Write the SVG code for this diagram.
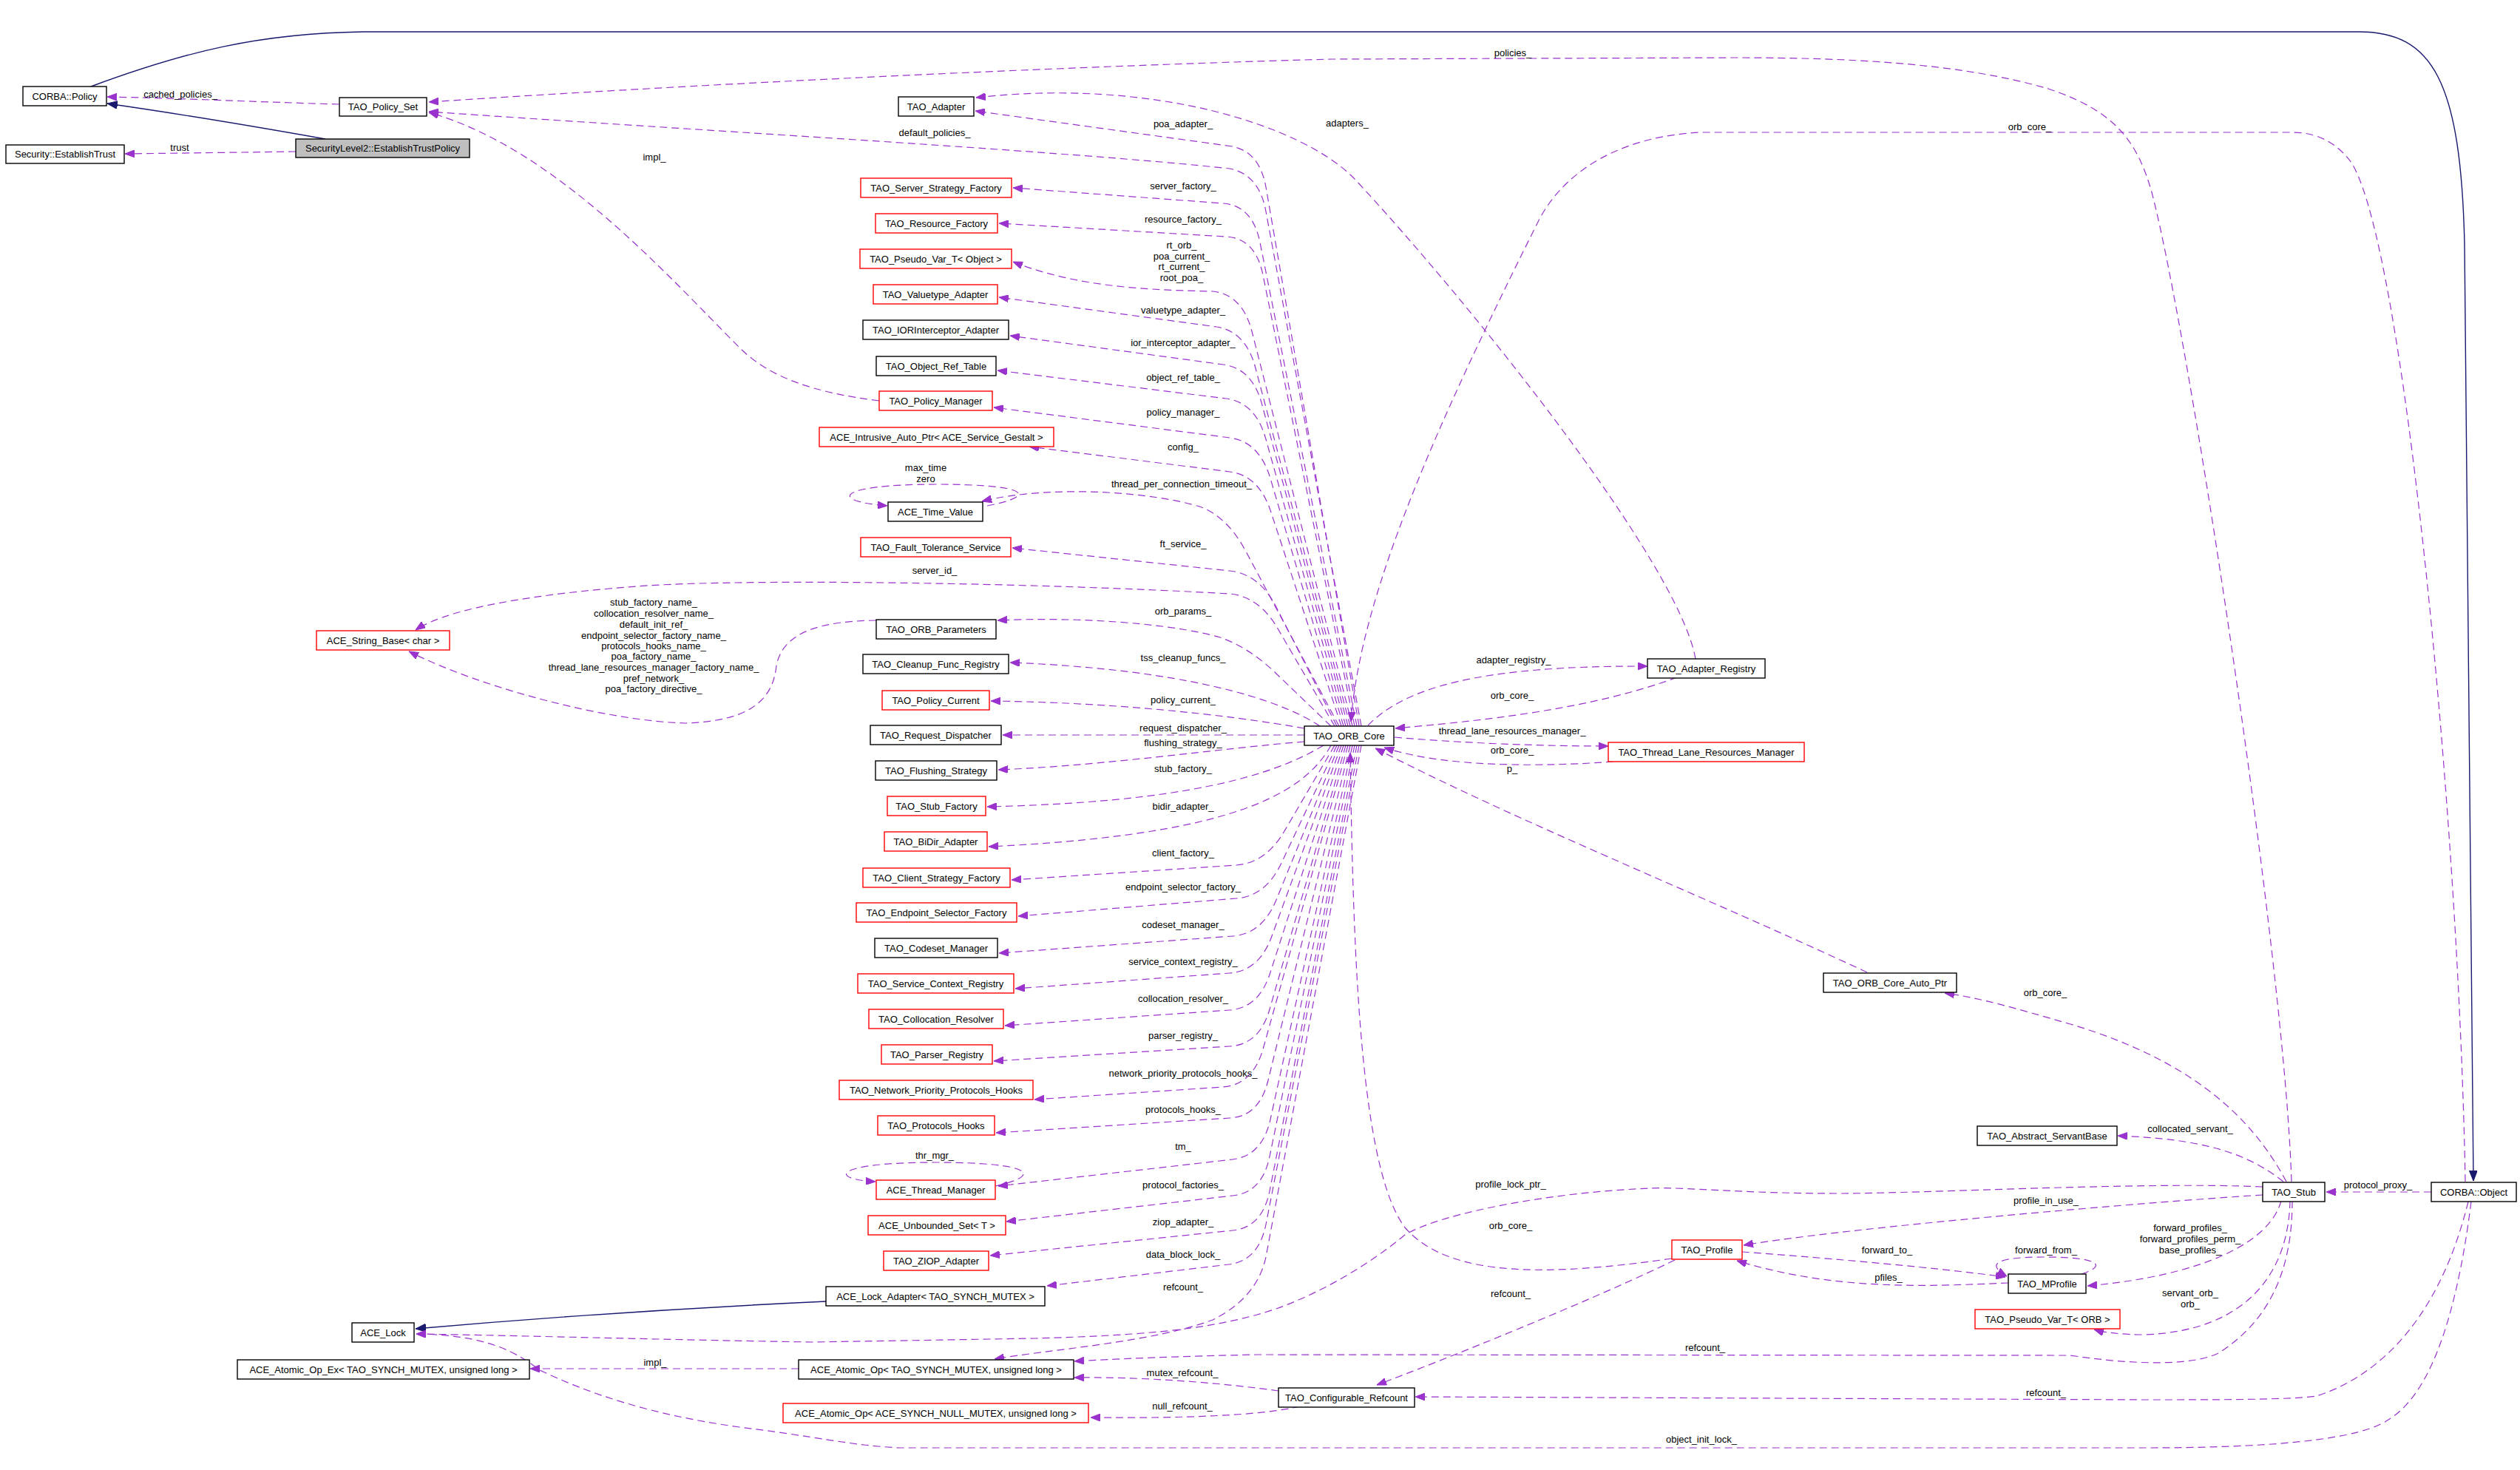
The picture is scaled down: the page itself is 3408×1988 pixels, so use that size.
<svg xmlns="http://www.w3.org/2000/svg" width="3408" height="1988" viewBox="0 0 3408 1988">
<style>
.n rect{fill:#fff;stroke:#000;stroke-width:1.4}
.r rect{stroke:#f00}
.c rect{fill:#bfbfbf}
text{font-family:"Liberation Sans",Arial,sans-serif;font-size:13px;fill:#000;text-anchor:middle}
.e{fill:none;stroke:#9a32cd;stroke-width:1.2;stroke-dasharray:10 6;marker-end:url(#ap)}
.i{fill:none;stroke:#191970;stroke-width:1.4;marker-end:url(#ai)}
</style>
<defs>
<marker id="ap" viewBox="0 0 13 10" refX="13" refY="5" markerWidth="13" markerHeight="10" orient="auto" markerUnits="userSpaceOnUse"><path d="M0,0L13,5L0,10z" fill="#9a32cd" stroke="#9a32cd"/></marker>
<marker id="ai" viewBox="0 0 14 11" refX="14" refY="5.5" markerWidth="14" markerHeight="11" orient="auto" markerUnits="userSpaceOnUse"><path d="M0,0L14,5.5L0,11z" fill="#191970" stroke="#191970"/></marker>
</defs>
<rect width="3408" height="1988" fill="#fff"/>
<g id="edges">
<path class="i" d="M123,117 C250,70 350,45 491,43 L3190,43 C3290,43 3328,110 3333,330 L3345,1597"/>
<path class="i" d="M440,188 C350,172 250,155 145,140"/>
<path class="i" d="M1117,1760 C900,1770 700,1785 562,1797"/>
<path class="e" d="M459,141 C350,138 250,133 145,131"/>
<path class="e" d="M400,205 C330,206 250,207 169,208"/>
<path class="e" d="M1189,542 C1100,531 1040,510 1000,470 C900,370 750,200 580,152"/>
<path class="e" d="M3099,1598 C3090,1300 2960,450 2910,260 C2890,190 2860,150 2770,120 C2650,85 2500,78 2346,78 L1800,80 C1500,88 1000,110 580,138"/>
<path class="e" d="M3334,1598 C3325,1100 3250,330 3180,220 Q3150,179 3100,179 L2300,179 C2180,185 2110,240 2080,300 C1950,560 1840,800 1827,976"/>
<path class="e" d="M2293,891 C2270,760 1980,400 1830,240 C1760,170 1560,105 1320,132"/>
<path class="e" d="M1838,982 L1712,253 Q1703,203 1663,197.5 L1319,150"/>
<path class="e" d="M1841,982 L1712,286 Q1703,236 1663,228 C1450,205 1000,180 580,151"/>
<path class="e" d="M1835,982 L1704,328 Q1694,278 1654,275 L1370,254"/>
<path class="e" d="M1832,982 L1708,372 Q1698,322 1658,320 L1351,302"/>
<path class="e" d="M1829,982 L1693,448 Q1680,398 1640,394 C1560,392 1460,390 1370,354"/>
<path class="e" d="M1826,982 L1698,498 Q1685,448 1645,442 L1351,402"/>
<path class="e" d="M1823,982 L1707,548 Q1694,498 1654,493 L1366,454"/>
<path class="e" d="M1820,982 L1712,594 Q1698,544 1658,539 L1349,501"/>
<path class="e" d="M1817,982 L1718,647 Q1703,597 1663,592 L1344,551"/>
<path class="e" d="M1814,982 L1719,693 Q1703,643 1663,638 L1392,604"/>
<path class="e" d="M1811,982 L1684,744 Q1660,700 1625,686 C1560,665 1420,655 1328,678"/>
<path class="e" d="M1335,684 C1400,672 1400,655 1265,655 C1130,655 1120,678 1200,684"/>
<path class="e" d="M1808,982 L1726,821 Q1703,776 1663,772 L1369,741"/>
<path class="e" d="M1805,982 L1728,850 Q1703,807 1663,803 C1400,788 1000,782 861,793 C740,802 610,820 562,852"/>
<path class="e" d="M1800,982 L1726,911 Q1690,876 1650,862 C1580,842 1450,834 1349,839"/>
<path class="e" d="M1185,839 C1120,840 1060,850 1050,900 C1045,950 1010,975 927,978 C820,975 650,930 553,881"/>
<path class="e" d="M1785,982 C1730,945 1600,905 1366,896"/>
<path class="e" d="M1764,985 C1650,965 1500,950 1340,948"/>
<path class="e" d="M1764,994 L1356,994"/>
<path class="e" d="M1764,1003 C1650,1012 1500,1035 1350,1041"/>
<path class="e" d="M1790,1008 C1720,1050 1600,1085 1335,1091"/>
<path class="e" d="M1800,1008 C1760,1080 1650,1130 1337,1145"/>
<path class="e" d="M1805,1008 L1737,1124 Q1712,1167 1672,1170 L1368,1190"/>
<path class="e" d="M1808,1008 L1733,1167 Q1712,1212 1672,1215 L1377,1239"/>
<path class="e" d="M1811,1008 L1726,1217 Q1707,1263 1667,1266 L1351,1289"/>
<path class="e" d="M1814,1008 L1720,1266 Q1703,1313 1663,1316 L1373,1337"/>
<path class="e" d="M1817,1008 L1718,1315 Q1703,1363 1663,1366 L1359,1387"/>
<path class="e" d="M1820,1008 L1717,1365 Q1703,1413 1663,1415 L1344,1435"/>
<path class="e" d="M1823,1008 L1708,1419 Q1694,1467 1654,1470 L1399,1487"/>
<path class="e" d="M1826,1008 L1715,1461 Q1703,1510 1663,1512 L1347,1532"/>
<path class="e" d="M1829,1008 L1718,1514 Q1707,1563 1667,1568 L1350,1604"/>
<path class="e" d="M1346,1604 C1410,1590 1400,1572 1265,1572 C1125,1572 1120,1595 1184,1598"/>
<path class="e" d="M1832,1008 L1717,1564 Q1707,1613 1667,1617 L1361,1652"/>
<path class="e" d="M1835,1008 L1717,1611 Q1707,1660 1667,1664 L1339,1698"/>
<path class="e" d="M1838,1008 L1712,1656 Q1702,1705 1662,1710 L1416,1739"/>
<path class="e" d="M1841,1008 L1712,1700 Q1700,1755 1640,1785 C1560,1815 1420,1825 1345,1838"/>
<path class="e" d="M1850,981 C1900,930 2000,900 2228,901"/>
<path class="e" d="M2268,916 C2150,960 2000,975 1887,985"/>
<path class="e" d="M1886,997 C1980,1005 2080,1009 2175,1009"/>
<path class="e" d="M2182,1030 C2100,1036 1960,1040 1872,1011"/>
<path class="e" d="M2525,1315 C2300,1210 2050,1110 1860,1012"/>
<path class="e" d="M3092,1598 C3040,1500 2950,1430 2800,1385 C2720,1362 2680,1350 2630,1343"/>
<path class="e" d="M3088,1598 C3040,1560 2980,1540 2864,1536"/>
<path class="e" d="M3288,1612 L3146,1612"/>
<path class="e" d="M3060,1605 C2900,1598 2600,1614 2487,1614 C2350,1614 2280,1605 2232,1607 C2100,1612 1950,1640 1900,1670 C1840,1720 1760,1762 1700,1778 C1620,1800 1534,1806 1400,1810 L1100,1815 C900,1812 700,1806 563,1804"/>
<path class="e" d="M3060,1616 C2900,1626 2500,1660 2358,1684"/>
<path class="e" d="M2261,1702 C2100,1725 1960,1730 1900,1660 C1840,1580 1830,1300 1826,1018"/>
<path class="e" d="M2265,1704 C2150,1760 1950,1840 1862,1873"/>
<path class="e" d="M2356,1693 C2450,1700 2600,1712 2712,1727"/>
<path class="e" d="M2815,1723 C2850,1712 2840,1700 2765,1700 C2690,1700 2690,1712 2714,1726"/>
<path class="e" d="M2716,1735 C2600,1740 2480,1745 2349,1705"/>
<path class="e" d="M3085,1624 C3070,1680 2980,1725 2823,1739"/>
<path class="e" d="M3097,1624 C3095,1720 3040,1800 2900,1805 C2870,1805 2845,1802 2832,1798"/>
<path class="e" d="M3100,1624 C3100,1700 3080,1780 3000,1830 C2970,1845 2900,1848 2800,1833 L1700,1832 C1600,1834 1500,1838 1453,1841"/>
<path class="e" d="M3338,1625 C3300,1780 3220,1860 3133,1888 C3100,1893 3000,1893 2900,1893 L1914,1889"/>
<path class="e" d="M3342,1625 C3320,1800 3280,1890 3230,1920 C3180,1955 3000,1958 2900,1958 L1217,1958 C1150,1955 1100,1942 1000,1930 C877,1913 793,1883 730,1853 C700,1830 660,1805 563,1804"/>
<path class="e" d="M1729,1881 C1650,1870 1550,1862 1453,1863"/>
<path class="e" d="M1758,1902 C1700,1915 1600,1918 1475,1917"/>
<path class="e" d="M1080,1851 L717,1851"/>
<text x="244" y="132">cached_policies_</text>
<text x="243" y="204">trust</text>
<text x="885" y="217">impl_</text>
<text x="2046" y="76">policies_</text>
<text x="2745" y="176">orb_core_</text>
<text x="1822" y="171">adapters_</text>
<text x="1600" y="172">poa_adapter_</text>
<text x="1264" y="184">default_policies_</text>
<text x="1600" y="256">server_factory_</text>
<text x="1600" y="301">resource_factory_</text>
<text x="1598" y="336">rt_orb_</text>
<text x="1598" y="351">poa_current_</text>
<text x="1598" y="365">rt_current_</text>
<text x="1598" y="380">root_poa_</text>
<text x="1600" y="424">valuetype_adapter_</text>
<text x="1600" y="468">ior_interceptor_adapter_</text>
<text x="1600" y="515">object_ref_table_</text>
<text x="1600" y="562">policy_manager_</text>
<text x="1600" y="609">config_</text>
<text x="1252" y="637">max_time</text>
<text x="1252" y="652">zero</text>
<text x="1598" y="659">thread_per_connection_timeout_</text>
<text x="1600" y="740">ft_service_</text>
<text x="1264" y="776">server_id_</text>
<text x="1600" y="831">orb_params_</text>
<text x="884" y="819">stub_factory_name_</text>
<text x="884" y="834">collocation_resolver_name_</text>
<text x="884" y="849">default_init_ref_</text>
<text x="884" y="864">endpoint_selector_factory_name_</text>
<text x="884" y="878">protocols_hooks_name_</text>
<text x="884" y="892">poa_factory_name_</text>
<text x="884" y="907">thread_lane_resources_manager_factory_name_</text>
<text x="884" y="922">pref_network_</text>
<text x="884" y="936">poa_factory_directive_</text>
<text x="1600" y="894">tss_cleanup_funcs_</text>
<text x="1600" y="951">policy_current_</text>
<text x="1600" y="989">request_dispatcher_</text>
<text x="1600" y="1009">flushing_strategy_</text>
<text x="1600" y="1044">stub_factory_</text>
<text x="1600" y="1095">bidir_adapter_</text>
<text x="1600" y="1158">client_factory_</text>
<text x="1600" y="1204">endpoint_selector_factory_</text>
<text x="1600" y="1255">codeset_manager_</text>
<text x="1600" y="1305">service_context_registry_</text>
<text x="1600" y="1355">collocation_resolver_</text>
<text x="1600" y="1405">parser_registry_</text>
<text x="1600" y="1456">network_priority_protocols_hooks_</text>
<text x="1600" y="1505">protocols_hooks_</text>
<text x="1600" y="1555">tm_</text>
<text x="1264" y="1567">thr_mgr_</text>
<text x="1600" y="1607">protocol_factories_</text>
<text x="1600" y="1657">ziop_adapter_</text>
<text x="1600" y="1701">data_block_lock_</text>
<text x="1600" y="1745">refcount_</text>
<text x="886" y="1847">impl_</text>
<text x="1599" y="1861">mutex_refcount_</text>
<text x="1599" y="1906">null_refcount_</text>
<text x="2047" y="897">adapter_registry_</text>
<text x="2045" y="945">orb_core_</text>
<text x="2045" y="993">thread_lane_resources_manager_</text>
<text x="2045" y="1019">orb_core_</text>
<text x="2045" y="1044">p_</text>
<text x="2766" y="1347">orb_core_</text>
<text x="2962" y="1531">collocated_servant_</text>
<text x="3216" y="1607">protocol_proxy_</text>
<text x="2043" y="1606">profile_lock_ptr_</text>
<text x="2767" y="1628">profile_in_use_</text>
<text x="2043" y="1662">orb_core_</text>
<text x="2962" y="1665">forward_profiles_</text>
<text x="2962" y="1680">forward_profiles_perm_</text>
<text x="2962" y="1695">base_profiles_</text>
<text x="2552" y="1695">forward_to_</text>
<text x="2767" y="1695">forward_from_</text>
<text x="2554" y="1732">pfiles_</text>
<text x="2962" y="1753">servant_orb_</text>
<text x="2962" y="1768">orb_</text>
<text x="2043" y="1754">refcount_</text>
<text x="2306" y="1827">refcount_</text>
<text x="2767" y="1888">refcount_</text>
<text x="2301" y="1951">object_init_lock_</text>
</g>
<g id="CORBA_Policy" class="n"><rect x="31" y="117" width="113" height="26"/><text x="87.5" y="134.5">CORBA::Policy</text></g>
<g id="TAO_Policy_Set" class="n"><rect x="459" y="132" width="118" height="25"/><text x="518" y="149">TAO_Policy_Set</text></g>
<g id="EstablishTrustPolicy" class="n c"><rect x="400" y="188" width="235" height="25"/><text x="517.5" y="205">SecurityLevel2::EstablishTrustPolicy</text></g>
<g id="Security_EstablishTrust" class="n"><rect x="8" y="196" width="160" height="25"/><text x="88" y="213">Security::EstablishTrust</text></g>
<g id="TAO_Adapter" class="n"><rect x="1215" y="131" width="102" height="26"/><text x="1266" y="148.5">TAO_Adapter</text></g>
<g id="TAO_Server_Strategy_Factory" class="n r"><rect x="1164" y="241" width="204" height="26"/><text x="1266" y="258.5">TAO_Server_Strategy_Factory</text></g>
<g id="TAO_Resource_Factory" class="n r"><rect x="1184" y="289" width="165" height="26"/><text x="1266.5" y="306.5">TAO_Resource_Factory</text></g>
<g id="TAO_Pseudo_Var_T_Object" class="n r"><rect x="1163" y="337" width="205" height="26"/><text x="1265.5" y="354.5">TAO_Pseudo_Var_T&lt; Object &gt;</text></g>
<g id="TAO_Valuetype_Adapter" class="n r"><rect x="1181" y="385" width="168" height="26"/><text x="1265" y="402.5">TAO_Valuetype_Adapter</text></g>
<g id="TAO_IORInterceptor_Adapter" class="n"><rect x="1167" y="433" width="197" height="26"/><text x="1265.5" y="450.5">TAO_IORInterceptor_Adapter</text></g>
<g id="TAO_Object_Ref_Table" class="n"><rect x="1185" y="482" width="162" height="26"/><text x="1266" y="499.5">TAO_Object_Ref_Table</text></g>
<g id="TAO_Policy_Manager" class="n r"><rect x="1189" y="529" width="153" height="26"/><text x="1265.5" y="546.5">TAO_Policy_Manager</text></g>
<g id="ACE_Intrusive_Auto_Ptr" class="n r"><rect x="1108" y="578" width="317" height="26"/><text x="1266.5" y="595.5">ACE_Intrusive_Auto_Ptr&lt; ACE_Service_Gestalt &gt;</text></g>
<g id="ACE_Time_Value" class="n"><rect x="1201" y="679" width="128" height="26"/><text x="1265" y="696.5">ACE_Time_Value</text></g>
<g id="TAO_Fault_Tolerance_Service" class="n r"><rect x="1164" y="727" width="203" height="26"/><text x="1265.5" y="744.5">TAO_Fault_Tolerance_Service</text></g>
<g id="ACE_String_Base_char" class="n r"><rect x="428" y="853" width="180" height="26"/><text x="518" y="870.5">ACE_String_Base&lt; char &gt;</text></g>
<g id="TAO_ORB_Parameters" class="n"><rect x="1185" y="838" width="162" height="26"/><text x="1266" y="855.5">TAO_ORB_Parameters</text></g>
<g id="TAO_Cleanup_Func_Registry" class="n"><rect x="1167" y="885" width="197" height="26"/><text x="1265.5" y="902.5">TAO_Cleanup_Func_Registry</text></g>
<g id="TAO_Policy_Current" class="n r"><rect x="1193" y="934" width="145" height="26"/><text x="1265.5" y="951.5">TAO_Policy_Current</text></g>
<g id="TAO_Request_Dispatcher" class="n"><rect x="1177" y="981" width="177" height="26"/><text x="1265.5" y="998.5">TAO_Request_Dispatcher</text></g>
<g id="TAO_Flushing_Strategy" class="n"><rect x="1184" y="1029" width="164" height="26"/><text x="1266" y="1046.5">TAO_Flushing_Strategy</text></g>
<g id="TAO_Stub_Factory" class="n r"><rect x="1200" y="1077" width="133" height="26"/><text x="1266.5" y="1094.5">TAO_Stub_Factory</text></g>
<g id="TAO_BiDir_Adapter" class="n r"><rect x="1196" y="1125" width="139" height="26"/><text x="1265.5" y="1142.5">TAO_BiDir_Adapter</text></g>
<g id="TAO_Client_Strategy_Factory" class="n r"><rect x="1167" y="1174" width="199" height="26"/><text x="1266.5" y="1191.5">TAO_Client_Strategy_Factory</text></g>
<g id="TAO_Endpoint_Selector_Factory" class="n r"><rect x="1158" y="1221" width="217" height="26"/><text x="1266.5" y="1238.5">TAO_Endpoint_Selector_Factory</text></g>
<g id="TAO_Codeset_Manager" class="n"><rect x="1183" y="1269" width="166" height="26"/><text x="1266" y="1286.5">TAO_Codeset_Manager</text></g>
<g id="TAO_Service_Context_Registry" class="n r"><rect x="1160" y="1317" width="211" height="26"/><text x="1265.5" y="1334.5">TAO_Service_Context_Registry</text></g>
<g id="TAO_Collocation_Resolver" class="n r"><rect x="1175" y="1365" width="182" height="26"/><text x="1266" y="1382.5">TAO_Collocation_Resolver</text></g>
<g id="TAO_Parser_Registry" class="n r"><rect x="1192" y="1413" width="150" height="26"/><text x="1267" y="1430.5">TAO_Parser_Registry</text></g>
<g id="TAO_Network_Priority_Protocols_Hooks" class="n r"><rect x="1135" y="1461" width="262" height="26"/><text x="1266" y="1478.5">TAO_Network_Priority_Protocols_Hooks</text></g>
<g id="TAO_Protocols_Hooks" class="n r"><rect x="1187" y="1509" width="158" height="26"/><text x="1266" y="1526.5">TAO_Protocols_Hooks</text></g>
<g id="ACE_Thread_Manager" class="n r"><rect x="1185" y="1596" width="161" height="26"/><text x="1265.5" y="1613.5">ACE_Thread_Manager</text></g>
<g id="ACE_Unbounded_Set_T" class="n r"><rect x="1174" y="1644" width="186" height="26"/><text x="1267" y="1661.5">ACE_Unbounded_Set&lt; T &gt;</text></g>
<g id="TAO_ZIOP_Adapter" class="n r"><rect x="1195" y="1692" width="142" height="26"/><text x="1266" y="1709.5">TAO_ZIOP_Adapter</text></g>
<g id="ACE_Lock_Adapter" class="n"><rect x="1117" y="1740" width="296" height="26"/><text x="1265" y="1757.5">ACE_Lock_Adapter&lt; TAO_SYNCH_MUTEX &gt;</text></g>
<g id="ACE_Lock" class="n"><rect x="476" y="1789" width="84" height="26"/><text x="518" y="1806.5">ACE_Lock</text></g>
<g id="ACE_Atomic_Op_Ex" class="n"><rect x="321" y="1839" width="395" height="26"/><text x="518.5" y="1856.5">ACE_Atomic_Op_Ex&lt; TAO_SYNCH_MUTEX, unsigned long &gt;</text></g>
<g id="ACE_Atomic_Op_TAO_SYNCH_MUTEX" class="n"><rect x="1080" y="1839" width="372" height="26"/><text x="1266" y="1856.5">ACE_Atomic_Op&lt; TAO_SYNCH_MUTEX, unsigned long &gt;</text></g>
<g id="ACE_Atomic_Op_NULL_MUTEX" class="n r"><rect x="1059" y="1898" width="413" height="26"/><text x="1265.5" y="1915.5">ACE_Atomic_Op&lt; ACE_SYNCH_NULL_MUTEX, unsigned long &gt;</text></g>
<g id="TAO_ORB_Core" class="n"><rect x="1764" y="982" width="121" height="26"/><text x="1824.5" y="999.5">TAO_ORB_Core</text></g>
<g id="TAO_Adapter_Registry" class="n"><rect x="2228" y="891" width="159" height="26"/><text x="2307.5" y="908.5">TAO_Adapter_Registry</text></g>
<g id="TAO_Thread_Lane_Resources_Manager" class="n r"><rect x="2175" y="1004" width="265" height="26"/><text x="2307.5" y="1021.5">TAO_Thread_Lane_Resources_Manager</text></g>
<g id="TAO_ORB_Core_Auto_Ptr" class="n"><rect x="2466" y="1316" width="180" height="26"/><text x="2556" y="1333.5">TAO_ORB_Core_Auto_Ptr</text></g>
<g id="TAO_Abstract_ServantBase" class="n"><rect x="2674" y="1523" width="189" height="26"/><text x="2768.5" y="1540.5">TAO_Abstract_ServantBase</text></g>
<g id="TAO_Stub" class="n"><rect x="3060" y="1599" width="84" height="26"/><text x="3102" y="1616.5">TAO_Stub</text></g>
<g id="CORBA_Object" class="n"><rect x="3288" y="1599" width="115" height="26"/><text x="3345.5" y="1616.5">CORBA::Object</text></g>
<g id="TAO_Profile" class="n r"><rect x="2261" y="1677" width="95" height="26"/><text x="2308.5" y="1694.5">TAO_Profile</text></g>
<g id="TAO_MProfile" class="n"><rect x="2716" y="1723" width="105" height="26"/><text x="2768.5" y="1740.5">TAO_MProfile</text></g>
<g id="TAO_Pseudo_Var_T_ORB" class="n r"><rect x="2671" y="1771" width="196" height="26"/><text x="2769" y="1788.5">TAO_Pseudo_Var_T&lt; ORB &gt;</text></g>
<g id="TAO_Configurable_Refcount" class="n"><rect x="1729" y="1877" width="184" height="26"/><text x="1821" y="1894.5">TAO_Configurable_Refcount</text></g>
</svg>
